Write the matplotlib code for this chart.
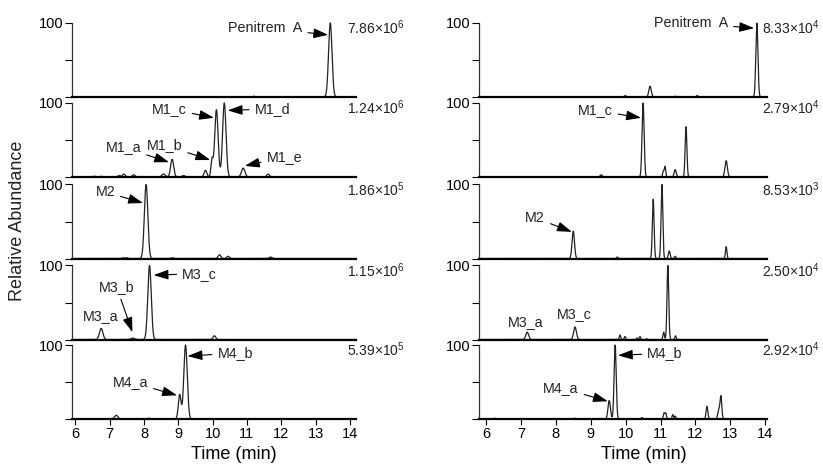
import numpy as np
import matplotlib
matplotlib.use("Agg")
import matplotlib.pyplot as plt

plt.rcParams['font.family'] = ['Liberation Sans', 'DejaVu Sans']
plt.rcParams['mathtext.fontset'] = 'custom'
plt.rcParams['mathtext.rm'] = 'Liberation Sans'
plt.rcParams['mathtext.it'] = 'Liberation Sans'

# peaks: (time min, relative height %, width min)
left_p1 = [(11.2, 1, 0.03), (13.43, 100, 0.05)]
left_p2 = [(6.55, 1, 0.04), (6.75, 1, 0.04), (7.27, 2, 0.04), (7.41, 4, 0.04), (7.70, 3, 0.04),
           (8.57, 4, 0.05), (8.82, 24, 0.045), (9.15, 2, 0.04), (9.79, 9, 0.04), (9.98, 23, 0.03),
           (10.11, 91, 0.05), (10.34, 100, 0.05), (10.89, 12, 0.05), (11.62, 4, 0.04)]
left_p3 = [(7.4, 1, 0.03), (7.5, 1, 0.03), (8.06, 100, 0.05), (8.83, 1, 0.03),
           (10.2, 5, 0.04), (10.45, 3, 0.04), (11.69, 2, 0.04)]
left_p4 = [(6.75, 15, 0.05), (7.67, 2, 0.05), (8.16, 100, 0.05), (10.05, 5, 0.04)]
left_p5 = [(7.19, 5, 0.05), (8.14, 1, 0.04), (9.04, 33, 0.04), (9.21, 100, 0.05)]

right_p1 = [(9.99, 2, 0.02), (10.70, 14.5, 0.035), (11.42, 1, 0.02), (12.05, 2, 0.02), (13.76, 100, 0.03)]
right_p2 = [(9.30, 3, 0.03), (10.50, 100, 0.03), (11.08, 8, 0.02), (11.13, 14, 0.02),
            (11.42, 10, 0.03), (11.73, 68, 0.025), (12.88, 22, 0.035)]
right_p3 = [(8.50, 37, 0.035), (9.76, 2, 0.02), (10.79, 80, 0.025), (11.04, 100, 0.025),
            (11.25, 10, 0.025), (11.42, 3, 0.02), (12.88, 16, 0.02)]
right_p4 = [(7.18, 10, 0.04), (8.55, 17, 0.04), (9.84, 6, 0.02), (9.98, 4, 0.02), (10.33, 2, 0.02),
            (10.41, 4, 0.02), (10.6, 1, 0.02), (11.09, 10, 0.02), (11.21, 100, 0.025), (11.43, 5, 0.02)]
right_p5 = [(6.26, 1, 0.02), (8.54, 1, 0.02), (9.53, 25, 0.035), (9.70, 100, 0.03), (10.47, 2, 0.02),
            (11.10, 8, 0.02), (11.15, 8, 0.02), (11.35, 6, 0.02), (11.42, 4, 0.02),
            (12.33, 17, 0.025), (12.67, 12, 0.03), (12.73, 30, 0.025)]

left_scales = [r'7.86×10$^{6}$', r'1.24×10$^{6}$', r'1.86×10$^{5}$', r'1.15×10$^{6}$', r'5.39×10$^{5}$']
right_scales = [r'8.33×10$^{4}$', r'2.79×10$^{4}$', r'8.53×10$^{3}$', r'2.50×10$^{4}$', r'2.92×10$^{4}$']

# labels: (panel, text, text x, text y, arrow x, arrow y, ha) ; arrow None = plain text
left_labels = [
    (0, 'Penitrem  A', 12.62, 93, 13.37, 84, 'right'),
    (1, 'M1_a', 7.40, 40, 8.73, 20, 'center'),
    (1, 'M1_b', 8.60, 43, 9.93, 23, 'center'),
    (1, 'M1_c', 8.74, 92, 10.04, 80, 'center'),
    (1, 'M1_d', 11.74, 92, 10.44, 90, 'center'),
    (1, 'M1_e', 12.09, 27, 10.94, 15, 'center'),
    (2, 'M2', 6.87, 90, 7.97, 75, 'center'),
    (3, 'M3_a', 6.73, 32, None, None, 'center'),
    (3, 'M3_b', 7.20, 71, 7.66, 10, 'center'),
    (3, 'M3_c', 9.62, 89, 8.28, 87, 'center'),
    (4, 'M4_a', 7.60, 50, 8.96, 32, 'center'),
    (4, 'M4_b', 10.66, 89, 9.27, 85, 'center'),
]
right_labels = [
    (0, 'Penitrem  A', 12.94, 100, 13.68, 93, 'right'),
    (1, 'M1_c', 9.13, 90, 10.44, 80, 'center'),
    (2, 'M2', 7.41, 55, 8.46, 36, 'center'),
    (3, 'M3_a', 7.15, 24, None, None, 'center'),
    (3, 'M3_c', 8.52, 35, None, None, 'center'),
    (4, 'M4_a', 8.15, 42, 9.49, 24, 'center'),
    (4, 'M4_b', 11.13, 89, 9.78, 86, 'center'),
]

W, H = 823, 465
fig = plt.figure(figsize=(W / 100, H / 100), dpi=100)

tops = [23, 103, 184.5, 265.5, 345]
ph = 74

def chrom(t, peaks):
    y = np.zeros_like(t)
    for c, h, w in peaks:
        y += h * np.exp(-(t - c) ** 2 / (2 * w ** 2))
    return y

def column(x0, x1, xlim, panels, scales, labels, sx, xlab_x):
    axes = []
    for i, peaks in enumerate(panels):
        ax = fig.add_axes([x0 / W, 1 - (tops[i] + ph) / H, (x1 - x0) / W, ph / H])
        t = np.linspace(xlim[0], xlim[1], 4000)
        ax.plot(t, chrom(t, peaks), color='#222222', lw=0.9, clip_on=False)
        ax.set_xlim(xlim)
        ax.set_ylim(0, 100)
        ax.spines['top'].set_visible(False)
        ax.spines['right'].set_visible(False)
        ax.spines['bottom'].set_linewidth(1.6)
        ax.spines['left'].set_linewidth(0.9)
        ax.spines['left'].set_color('#333333')
        ax.set_yticks([0, 50, 100])
        ax.set_yticklabels(['', '', '100'])
        ax.tick_params(axis='y', direction='out', length=5, width=0.8, labelsize=10.5, pad=1)
        if i < len(panels) - 1:
            ax.set_xticks([])
        else:
            ax.set_xticks(range(6, 15))
            ax.tick_params(axis='x', direction='out', length=4, width=0.8, labelsize=10.5, pad=2)
        ax.text(sx, 0.93, scales[i], transform=ax.transAxes, fontsize=10, va='center', ha='left',
                color='#222222')
        axes.append(ax)
    for p, txt, lx, ly, ax_, ay, ha in labels:
        if ax_ is None:
            axes[p].text(lx, ly, txt, fontsize=10.3, ha=ha, va='center', color='#222222')
        else:
            axes[p].annotate(txt, xy=(ax_, ay), xytext=(lx, ly), fontsize=10.3, ha=ha, va='center',
                             color='#222222',
                             arrowprops=dict(arrowstyle='-|>,head_length=0.6,head_width=0.2',
                                             color='black', lw=0.8, shrinkA=2, shrinkB=0,
                                             mutation_scale=15))
    axes[-1].set_xlabel('Time (min)', fontsize=13)
    axes[-1].xaxis.set_label_coords(xlab_x, -0.36)
    return axes

column(72, 356, (5.9, 14.18), [left_p1, left_p2, left_p3, left_p4, left_p5],
       left_scales, left_labels, 0.968, 0.57)
column(479, 767, (5.8, 14.05), [right_p1, right_p2, right_p3, right_p4, right_p5],
       right_scales, right_labels, 0.983, 0.573)

fig.text(18 / W, 1 - 221 / H, 'Relative Abundance', rotation=90, fontsize=13,
         ha='center', va='center', color='#222222')

fig.savefig('out.png', dpi=100)
